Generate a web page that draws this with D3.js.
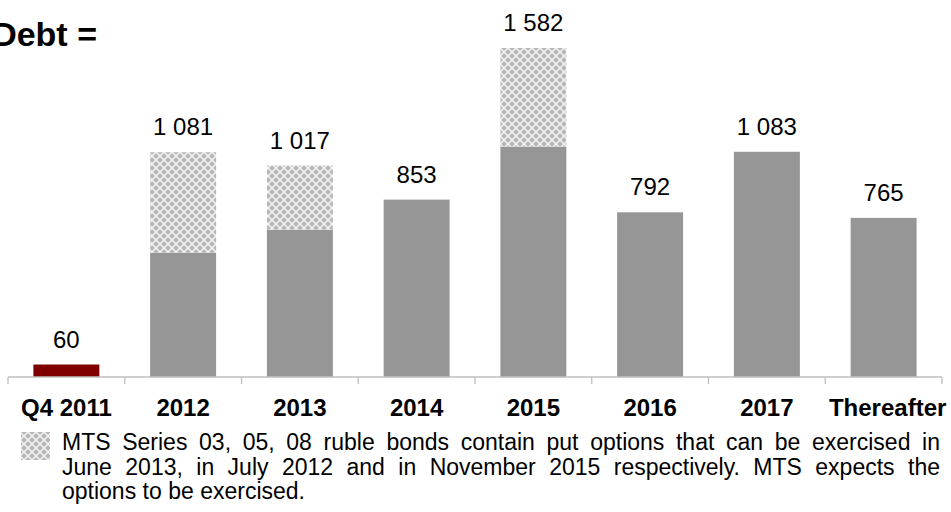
<!doctype html>
<html lang="en">
  <head>
    <meta charset="utf-8">
    <title>Debt maturity</title>
    <script src="https://d3js.org/d3.v7.min.js"></script>
    <style>
      body { margin: 0; background: #fff; }
      svg { display: block; font-family: Arial, "Liberation Sans", sans-serif; }
    </style>
  </head>
  <body>
    <div class="chart"></div>
    <script type="text/javascript">
    // chart data
    var categories = ["Q4 2011", "2012", "2013", "2014", "2015", "2016", "2017", "Thereafter"];
    var solidValues = [60, 598, 708, 853, 1108, 792, 1083, 765];
    var putValues = [0, 483, 309, 0, 474, 0, 0, 0];
    var totalLabels = ["60", "1 081", "1 017", "853", "1 582", "792", "1 083", "765"];
    var titleText = "Debt =";
    var noteLines = [
        "MTS Series 03, 05, 08 ruble bonds contain put options that can be exercised in",
        "June 2013, in July 2012 and in November 2015 respectively. MTS expects the",
        "options to be exercised."
    ];

    var width = 951,
        height = 512;

    const svg = d3.select(".chart")
        .append("svg")
        .attr("width", width)
        .attr("height", height);

    // hatch pattern for the put option part
    const defs = svg.append("defs");
    const pat = defs.append("pattern")
        .attr("id", "putPattern")
        .attr("patternUnits", "userSpaceOnUse")
        .attr("width", 8)
        .attr("height", 8);
    pat.append("rect").attr("width", 8).attr("height", 8).attr("fill", "#f4f4f4");
    [[0, 0], [8, 0], [0, 8], [8, 8], [4, 4]].forEach(function(p) {
        pat.append("path")
            .attr("d", "M" + p[0] + "," + (p[1] - 3) + "L" + (p[0] + 3) + "," + p[1] +
                       "L" + p[0] + "," + (p[1] + 3) + "L" + (p[0] - 3) + "," + p[1] + "Z")
            .attr("fill", "#b8b8b8");
    });

    const x = d3.scaleBand()
        .domain(categories)
        .range([8, 942])
        .paddingInner(0.435)
        .paddingOuter(0.2175);

    const y = d3.scaleLinear()
        .domain([0, 1582])
        .range([377, 48]);

    const rows = categories.map(function(c, i) {
        return {cat: c, solid: solidValues[i], put: putValues[i], label: totalLabels[i], i: i};
    });

    // solid bars
    svg.append("g").selectAll("rect")
        .data(rows)
        .enter()
        .append("rect")
        .attr("x", d => x(d.cat))
        .attr("y", d => y(d.solid))
        .attr("width", x.bandwidth())
        .attr("height", d => y(0) - y(d.solid))
        .attr("fill", d => d.i === 0 ? "#800000" : "#969696");

    // put option parts
    svg.append("g").selectAll("rect")
        .data(rows.filter(d => d.put > 0))
        .enter()
        .append("rect")
        .attr("x", d => x(d.cat))
        .attr("y", d => y(d.solid + d.put))
        .attr("width", x.bandwidth())
        .attr("height", d => y(d.solid) - y(d.solid + d.put))
        .attr("fill", "url(#putPattern)");

    // total labels
    svg.append("g").selectAll("text")
        .data(rows)
        .enter()
        .append("text")
        .attr("x", d => x(d.cat) + x.bandwidth() / 2)
        .attr("y", d => y(d.solid + d.put) - 17)
        .attr("text-anchor", "middle")
        .style("font-size", "24px")
        .attr("fill", "#000")
        .text(d => d.label);

    // axis line and ticks between categories
    const gAxis = svg.append("g")
        .attr("stroke", "#bfbfbf")
        .attr("stroke-width", 1.3);
    gAxis.append("line")
        .attr("x1", x.range()[0]).attr("x2", x.range()[1])
        .attr("y1", y(0)).attr("y2", y(0));
    var bounds = categories.map(c => x(c) - x.step() * x.paddingInner() / 2);
    bounds[0] = x.range()[0];
    bounds.push(x.range()[1]);
    gAxis.selectAll("line.tick")
        .data(bounds)
        .enter()
        .append("line")
        .attr("class", "tick")
        .attr("x1", d => d).attr("x2", d => d)
        .attr("y1", y(0)).attr("y2", y(0) + 7);

    // category labels
    svg.append("g").selectAll("text")
        .data(rows)
        .enter()
        .append("text")
        .attr("x", d => x(d.cat) + x.bandwidth() / 2 + (d.i === categories.length - 1 ? 4 : 0))
        .attr("y", 416)
        .attr("text-anchor", "middle")
        .style("font-size", "24px")
        .style("font-weight", "bold")
        .attr("fill", "#000")
        .text(d => d.cat);

    // title, cut off at the left edge as in the source slide
    svg.append("text")
        .attr("x", 97)
        .attr("y", 46)
        .attr("text-anchor", "end")
        .style("font-size", "34px")
        .style("font-weight", "bold")
        .text(titleText);

    // legend swatch
    svg.append("rect")
        .attr("x", 21)
        .attr("y", 432)
        .attr("width", 29)
        .attr("height", 28)
        .attr("fill", "url(#putPattern)");

    // justified note text
    var noteLeft = 62,
        noteRight = 940,
        noteTop = 450,
        lineGap = 24.5;

    noteLines.forEach(function(line, li) {
        var words = line.split(" ");
        var g = svg.append("g");
        var nodes = words.map(function(w) {
            return g.append("text")
                .attr("y", noteTop + li * lineGap)
                .style("font-size", "23px")
                .attr("fill", "#000")
                .text(w);
        });
        var widths = nodes.map(n => n.node().getComputedTextLength());
        var total = d3.sum(widths);
        var last = li === noteLines.length - 1;
        var gap = last ? 6.4 : (noteRight - noteLeft - total) / (words.length - 1);
        var pos = noteLeft;
        nodes.forEach(function(n, i) {
            n.attr("x", pos);
            pos += widths[i] + gap;
        });
    });
    </script>
  </body>
</html>
